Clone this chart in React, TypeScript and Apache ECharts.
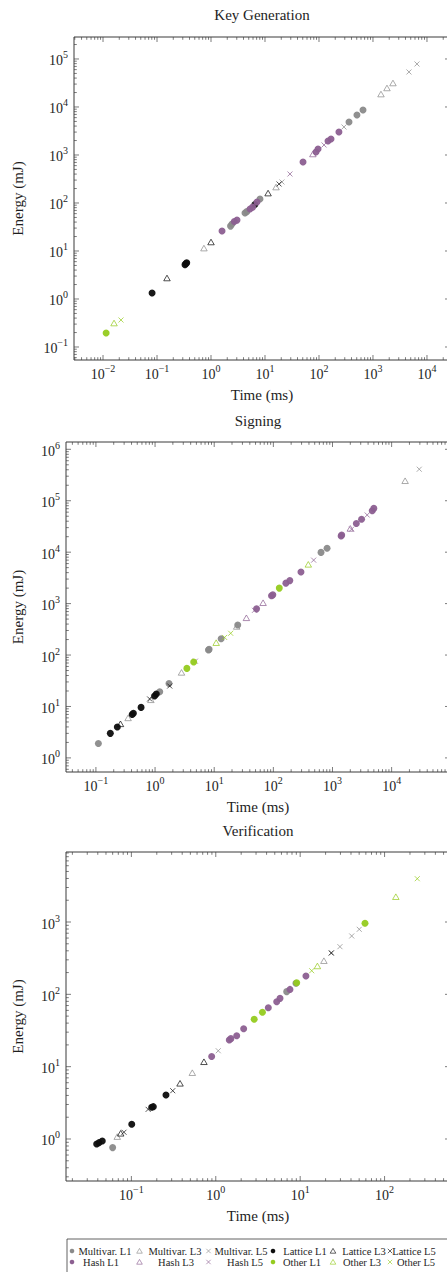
import React, { useEffect, useRef } from "react";
import * as echarts from "echarts";

const FONT = "Liberation Serif, DejaVu Serif, serif";
const INK = "#1e1e1e";

// ---------- series names / styles ----------
const seriesNames = [
  "Multivar. L1", "Multivar. L3", "Multivar. L5",
  "Lattice L1", "Lattice L3", "Lattice L5",
  "Hash L1", "Hash L3", "Hash L5",
  "Other L1", "Other L3", "Other L5",
];
const groupColors = ["#8a8a8a", "#0d0d0d", "#8c5f91", "#95cb1f"];

// ---------- Key Generation [time ms, energy mJ] ----------
const kgTimeRange = [0.0029, 26700];
const kgEnergyRange = [0.0536, 287000];
const kgMultivarL1 = [[2.3, 33], [2.45, 36.5], [4.26, 61.7], [4.6, 66], [8.07, 121], [360, 4870], [505, 6810], [653, 8660]];
const kgMultivarL3 = [[0.74, 11.5], [16, 215], [1406, 18600], [1816, 24900], [2344, 31600]];
const kgMultivarL5 = [[20.6, 274], [290, 3830], [4640, 53600], [6530, 78700]];
const kgLatticeL1 = [[0.081, 1.33], [0.33, 5.2], [0.345, 5.5], [0.355, 5.7], [6.5, 93]];
const kgLatticeL3 = [[0.153, 2.74], [1.0, 15.4], [11.4, 161]];
const kgLatticeL5 = [[18.2, 249]];
const kgHashL1 = [[1.6, 26.1], [2.7, 41], [3.03, 44], [5.28, 75], [5.9, 82], [7.1, 105], [50.6, 715], [88, 1155], [96, 1334], [147, 1950], [167, 2154], [234, 3013]];
const kgHashL3 = [[77, 1050]];
const kgHashL5 = [[29, 402], [124, 1616]];
const kgOtherL1 = [[0.0114, 0.196]];
const kgOtherL3 = [[0.016, 0.316]];
const kgOtherL5 = [[0.0215, 0.365]];

// ---------- Signing ----------
const sgTimeRange = [0.0312, 97000];
const sgEnergyRange = [0.532, 1387000];
const sgMultivarL1 = [[0.11, 1.9], [1.2, 19.4], [1.72, 28], [8.0, 125], [8.2, 129], [13.1, 208], [25, 385], [640, 9900], [810, 11900]];
const sgMultivarL3 = [[0.35, 6.0], [0.85, 13.5], [2.8, 46], [24, 360], [16900, 245000]];
const sgMultivarL5 = [[29300, 410000]];
const sgLatticeL1 = [[0.175, 3.0], [0.23, 4.0], [0.41, 7.0], [0.43, 7.4], [0.58, 9.6], [0.98, 16], [1.05, 17.5]];
const sgLatticeL3 = [[0.26, 4.6]];
const sgLatticeL5 = [[0.81, 14], [1.77, 25]];
const sgHashL1 = [[52, 790], [93, 1420], [98, 1480], [163, 2500], [190, 2800], [293, 4100], [1400, 20600], [1430, 21500], [2530, 36000], [3100, 43500], [4700, 64000], [5000, 71000]];
const sgHashL3 = [[35, 530], [67, 1040], [2000, 29000]];
const sgHashL5 = [[4.8, 76], [48, 740], [480, 7000], [2100, 28000], [3860, 52800]];
const sgOtherL1 = [[3.45, 55], [4.5, 73], [126, 2000]];
const sgOtherL3 = [[10.8, 174], [390, 5800]];
const sgOtherL5 = [[15, 220], [19, 265]];

// ---------- Verification ----------
const vfTimeRange = [0.0168, 596];
const vfEnergyRange = [0.2626, 9290];
const vfMultivarL1 = [[0.06, 0.76], [6.92, 109], [8.91, 142]];
const vfMultivarL3 = [[0.068, 1.08], [0.527, 8.26], [19.1, 292]];
const vfMultivarL5 = [[1.07, 16.6], [23.6, 376], [29.6, 456], [40.8, 641], [50.1, 793]];
const vfLatticeL1 = [[0.0388, 0.853], [0.0413, 0.89], [0.0452, 0.94], [0.101, 1.6], [0.174, 2.74], [0.182, 2.8], [0.257, 4.06]];
const vfLatticeL3 = [[0.0747, 1.2], [0.377, 5.89], [0.724, 11.7]];
const vfLatticeL5 = [[0.0817, 1.24], [0.158, 2.57], [0.309, 4.65], [23.3, 372]];
const vfHashL1 = [[0.894, 13.8], [1.445, 23.4], [1.51, 24.4], [1.77, 26.7], [2.14, 33.4], [4.19, 65.2], [5.27, 79.1], [5.77, 88], [7.57, 117], [11.7, 179]];
const vfHashL3: number[][] = [];
const vfHashL5: number[][] = [];
const vfOtherL1 = [[2.85, 45.3], [3.57, 56.5], [9.1, 145], [58.6, 960]];
const vfOtherL3 = [[16, 247], [136, 2240]];
const vfOtherL5 = [[13.7, 212], [244, 3970]];

const panels = [
  {
    title: "Key Generation", titleX: 262, titleTop: 7,
    grid: { left: 74, top: 37, width: 376, height: 323 }, yNameGap: 48,
    xRange: kgTimeRange, yRange: kgEnergyRange,
    data: [kgMultivarL1, kgMultivarL3, kgMultivarL5, kgLatticeL1, kgLatticeL3, kgLatticeL5, kgHashL1, kgHashL3, kgHashL5, kgOtherL1, kgOtherL3, kgOtherL5],
  },
  {
    title: "Signing", titleX: 258, titleTop: 413,
    grid: { left: 66, top: 442, width: 384, height: 330 }, yNameGap: 40,
    xRange: sgTimeRange, yRange: sgEnergyRange,
    data: [sgMultivarL1, sgMultivarL3, sgMultivarL5, sgLatticeL1, sgLatticeL3, sgLatticeL5, sgHashL1, sgHashL3, sgHashL5, sgOtherL1, sgOtherL3, sgOtherL5],
  },
  {
    title: "Verification", titleX: 258, titleTop: 823,
    grid: { left: 66, top: 852, width: 384, height: 329 }, yNameGap: 40,
    xRange: vfTimeRange, yRange: vfEnergyRange,
    data: [vfMultivarL1, vfMultivarL3, vfMultivarL5, vfLatticeL1, vfLatticeL3, vfLatticeL5, vfHashL1, vfHashL3, vfHashL5, vfOtherL1, vfOtherL3, vfOtherL5],
  },
];

// legend layout (two rows of six)
const legendMarkerX = [72, 139.5, 208.5, 273, 333, 390];
const legendTextX = [
  [105, 175, 241, 305, 364, 414],
  [101, 176, 245, 302, 362, 416],
];
const legendRowY = [1251, 1262];

const TRI = "path://M5,0L10,8.66L0,8.66Z";
const CROSS = "path://M0,0L10,10M0,10L10,0";

function logTicks(min: number, max: number) {
  const major: number[] = [];
  const minor: number[] = [];
  for (let e = Math.floor(Math.log10(min)); e <= Math.ceil(Math.log10(max)); e++) {
    for (let k = 1; k <= 9; k++) {
      const v = k * Math.pow(10, e);
      if (v < min || v > max) continue;
      (k === 1 ? major : minor).push(v);
    }
  }
  return { major, minor };
}

function sup(v: number) {
  const e = Math.log10(v);
  const r = Math.round(e);
  if (Math.abs(e - r) > 1e-6) return "";
  const s = r < 0 ? "\u2212" + String(-r) : String(r);
  return "{b|10}{s|" + s + "}";
}

const labelRich = {
  b: { fontSize: 14, fontFamily: FONT, color: INK, lineHeight: 18, verticalAlign: "bottom" },
  s: { fontSize: 10, fontFamily: FONT, color: INK, lineHeight: 6, verticalAlign: "top" },
};

function seriesStyle(j: number) {
  const c = groupColors[Math.floor(j / 3)];
  const lvl = j % 3;
  if (lvl === 0) {
    return { symbol: "circle", symbolSize: 7, itemStyle: { color: c, opacity: 0.95 } };
  }
  if (lvl === 1) {
    return {
      symbol: TRI, symbolSize: [6.5, 5.6],
      itemStyle: { color: "rgba(0,0,0,0)", borderColor: c, borderWidth: 0.9, opacity: 0.8 },
    };
  }
  return {
    symbol: CROSS, symbolSize: 5,
    itemStyle: { color: "rgba(0,0,0,0)", borderColor: c, borderWidth: 0.9, opacity: 0.8 },
  };
}

function buildOption() {
  const grids: any[] = [];
  const xAxes: any[] = [];
  const yAxes: any[] = [];
  const titles: any[] = [];
  const series: any[] = [];

  panels.forEach((p, i) => {
    grids.push({ ...p.grid, show: true, borderColor: "#3a3a3a", borderWidth: 1, backgroundColor: "transparent" });
    titles.push({
      text: p.title, left: p.titleX, top: p.titleTop, textAlign: "center", padding: 0,
      textStyle: { fontFamily: FONT, fontSize: 15, fontWeight: "normal", color: INK, lineHeight: 16 },
    });
    xAxes.push({
      type: "log", gridIndex: i, min: p.xRange[0], max: p.xRange[1],
      name: "Time (ms)", nameLocation: "middle", nameGap: 27,
      nameTextStyle: { fontFamily: FONT, fontSize: 15, color: INK, lineHeight: 16 },
      axisLine: { show: false }, axisTick: { show: false }, splitLine: { show: false },
      axisLabel: { formatter: sup, rich: labelRich, margin: 3.5, fontFamily: FONT, fontSize: 14, color: INK },
    });
    yAxes.push({
      type: "log", gridIndex: i, min: p.yRange[0], max: p.yRange[1],
      name: "Energy (mJ)", nameLocation: "middle", nameGap: p.yNameGap, nameRotate: 90,
      nameTextStyle: { fontFamily: FONT, fontSize: 15, color: INK, lineHeight: 16 },
      axisLine: { show: false }, axisTick: { show: false }, splitLine: { show: false },
      axisLabel: { formatter: sup, rich: labelRich, margin: 6, fontFamily: FONT, fontSize: 14, color: INK },
    });

    // tick marks on all four sides, pointing inward
    const xt = logTicks(p.xRange[0], p.xRange[1]);
    const yt = logTicks(p.yRange[0], p.yRange[1]);
    const tickData = [
      ...xt.major.map((v) => [v, p.yRange[0], 0]),
      ...xt.minor.map((v) => [v, p.yRange[0], 1]),
      ...yt.major.map((v) => [p.xRange[0], v, 2]),
      ...yt.minor.map((v) => [p.xRange[0], v, 3]),
    ];
    series.push({
      type: "custom", xAxisIndex: i, yAxisIndex: i, silent: true, clip: false, z: 1,
      data: tickData,
      renderItem: (params: any, api: any) => {
        const cs = params.coordSys;
        const kind = api.value(2);
        const pt = api.coord([api.value(0), api.value(1)]);
        const len = kind % 2 === 0 ? 5 : 2.8;
        const st = { stroke: "#444", lineWidth: 0.7 };
        if (kind < 2) {
          const x = pt[0];
          const b = cs.y + cs.height;
          return {
            type: "group",
            children: [
              { type: "line", shape: { x1: x, y1: b, x2: x, y2: b - len }, style: st },
              { type: "line", shape: { x1: x, y1: cs.y, x2: x, y2: cs.y + len }, style: st },
            ],
          };
        }
        const y = pt[1];
        const r = cs.x + cs.width;
        return {
          type: "group",
          children: [
            { type: "line", shape: { x1: cs.x, y1: y, x2: cs.x + len, y2: y }, style: st },
            { type: "line", shape: { x1: r, y1: y, x2: r - len, y2: y }, style: st },
          ],
        };
      },
    });

    p.data.forEach((d, j) => {
      series.push({
        type: "scatter", name: seriesNames[j], xAxisIndex: i, yAxisIndex: i,
        data: d, z: 2 + j, ...seriesStyle(j),
      });
    });
  });

  // legend drawn as graphic elements: Multivar./Lattice in row 1, Hash/Other in row 2
  const graphic: any[] = [
    { type: "rect", shape: { x: 67, y: 1239, width: 420, height: 60 }, style: { fill: "#fff", stroke: "#3a3a3a", lineWidth: 0.8 } },
  ];
  seriesNames.forEach((name, j) => {
    const g = Math.floor(j / 3);
    const rowIdx = g < 2 ? 0 : 1;
    const col = (g % 2) * 3 + (j % 3);
    const cy = legendRowY[rowIdx];
    const mx = legendMarkerX[col];
    const c = groupColors[g];
    const lvl = j % 3;
    if (lvl === 0) {
      graphic.push({ type: "circle", shape: { cx: mx, cy, r: 2.3 }, style: { fill: c } });
    } else if (lvl === 1) {
      graphic.push({
        type: "polygon",
        shape: { points: [[mx, cy - 2.6], [mx + 2.8, cy + 2.2], [mx - 2.8, cy + 2.2]] },
        style: { fill: "none", stroke: c, lineWidth: 0.8, opacity: 0.8 },
      });
    } else {
      graphic.push({ type: "line", shape: { x1: mx - 2.2, y1: cy - 2.2, x2: mx + 2.2, y2: cy + 2.2 }, style: { stroke: c, lineWidth: 0.8, opacity: 0.8 } });
      graphic.push({ type: "line", shape: { x1: mx - 2.2, y1: cy + 2.2, x2: mx + 2.2, y2: cy - 2.2 }, style: { stroke: c, lineWidth: 0.8, opacity: 0.8 } });
    }
    graphic.push({
      type: "text", x: legendTextX[rowIdx][col], y: cy,
      style: { text: name, fontFamily: FONT, fontSize: 10.5, fill: INK, align: "center", verticalAlign: "middle" },
    });
  });

  return {
    animation: false,
    backgroundColor: "#fff",
    title: titles,
    grid: grids,
    xAxis: xAxes,
    yAxis: yAxes,
    series,
    graphic,
  };
}

export default function App() {
  const ref = useRef<HTMLDivElement>(null);
  useEffect(() => {
    if (!ref.current) return;
    const chart = echarts.init(ref.current, undefined, { renderer: "svg" });
    chart.setOption(buildOption() as any);
    return () => chart.dispose();
  }, []);
  return (
    <div style={{ position: "fixed", left: 0, top: 0, width: 447, height: 1272, overflow: "hidden", background: "#fff" }}>
      <div ref={ref} style={{ width: 460, height: 1272 }} />
    </div>
  );
}
